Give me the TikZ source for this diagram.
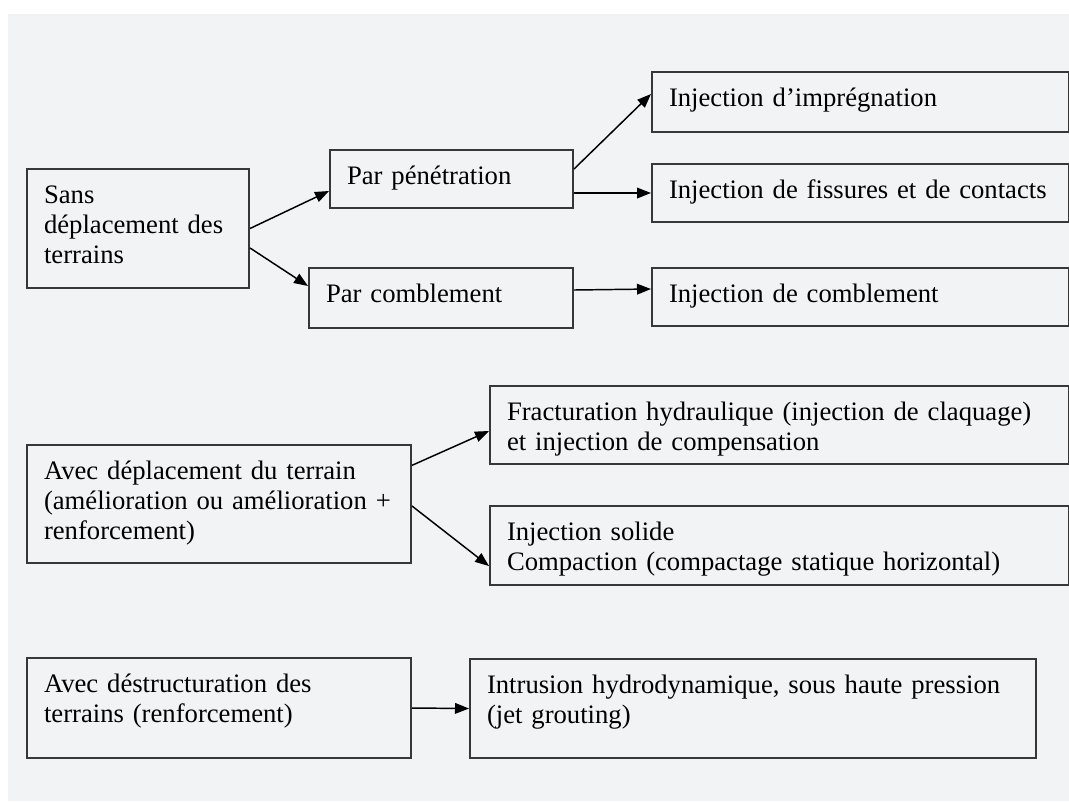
\documentclass[tikz,border=0pt]{standalone}
\usepackage{fontspec}
\setmainfont{Liberation Serif}
\usetikzlibrary{positioning,arrows.meta}
\definecolor{bgpage}{RGB}{242,243,245}
\definecolor{boxline}{RGB}{55,55,55}

\begin{document}
\begin{tikzpicture}[x=0.75pt,y=-0.75pt,>={Triangle[length=10.5pt,width=8pt]}]
\tikzstyle{box}=[draw=boxline,line width=1.5pt,anchor=north west,inner xsep=12.75pt,inner ysep=0pt,align=left,text height=25.5pt,font=\fontsize{20}{22.8}\selectfont]
\tikzstyle{arr}=[->,line width=1.1pt]

\useasboundingbox (0,0) rectangle (1069,801);
\fill[bgpage] (8,14) rectangle (1069,801);

% Sans deplacement des terrains
\node[box,text width=141pt,text depth=63.75pt] (sans) at (26,168) {Sans\\déplacement des\\terrains};
\node[box,text width=156.75pt,text depth=18pt] (pen) at (329,149) {Par pénétration};
\node[box,text width=172.5pt,text depth=19.5pt] (comb) at (308,267) {Par comblement};
\node[box,text width=287.25pt,text depth=19.5pt] (impr) at (651,71) {Injection d'imprégnation};
\node[box,text width=287.25pt,text depth=18pt,below=22.5pt of impr.south west,anchor=north west] (fiss) {Injection de fissures et de contacts};
\node[box,text width=287.25pt,text depth=18pt] (injcomb) at (651,267) {Injection de comblement};

% Avec deplacement du terrain
\node[box,text width=262.5pt,text depth=63pt] (depl) at (26,444) {Avec déplacement du terrain\\(amélioration ou amélioration +\\renforcement)};
\node[box,text width=408.75pt,text depth=33pt] (frac) at (489,385) {Fracturation hydraulique (injection de claquage)\\et injection de compensation};
\node[box,text width=408.75pt,text depth=33.75pt,below=30pt of frac.south west,anchor=north west] (solid) {Injection solide\\Compaction (compactage statique horizontal)};

% Avec destructuration
\node[box,text width=262.5pt,text depth=49.5pt] (destr) at (26,657) {Avec déstructuration des\\terrains (renforcement)};
\node[box,text width=399pt,text depth=48.75pt] (intr) at (469,658) {Intrusion hydrodynamique, sous haute pression\\(jet grouting)};

% arrows
\draw[arr] (sans.east) -- ([yshift=-9pt]pen.west);
\draw[arr] ([yshift=-14.6pt]sans.east) -- ([yshift=9pt]comb.west);
\draw[arr] ([yshift=7.5pt]pen.east) -- ([yshift=6pt]impr.west);
\draw[arr] (pen.east |- fiss.west) -- (fiss.west);
\draw[arr] ([yshift=6pt]comb.east) -- ([yshift=6pt]injcomb.west);

\draw[arr] ([yshift=29pt]depl.east) -- ([yshift=-4.5pt]frac.west);
\draw[arr] ([yshift=-1.5pt]depl.east) -- ([yshift=-15.4pt]solid.west);

\draw[arr] (destr.east) -- (intr.west);
\end{tikzpicture}
\end{document}
